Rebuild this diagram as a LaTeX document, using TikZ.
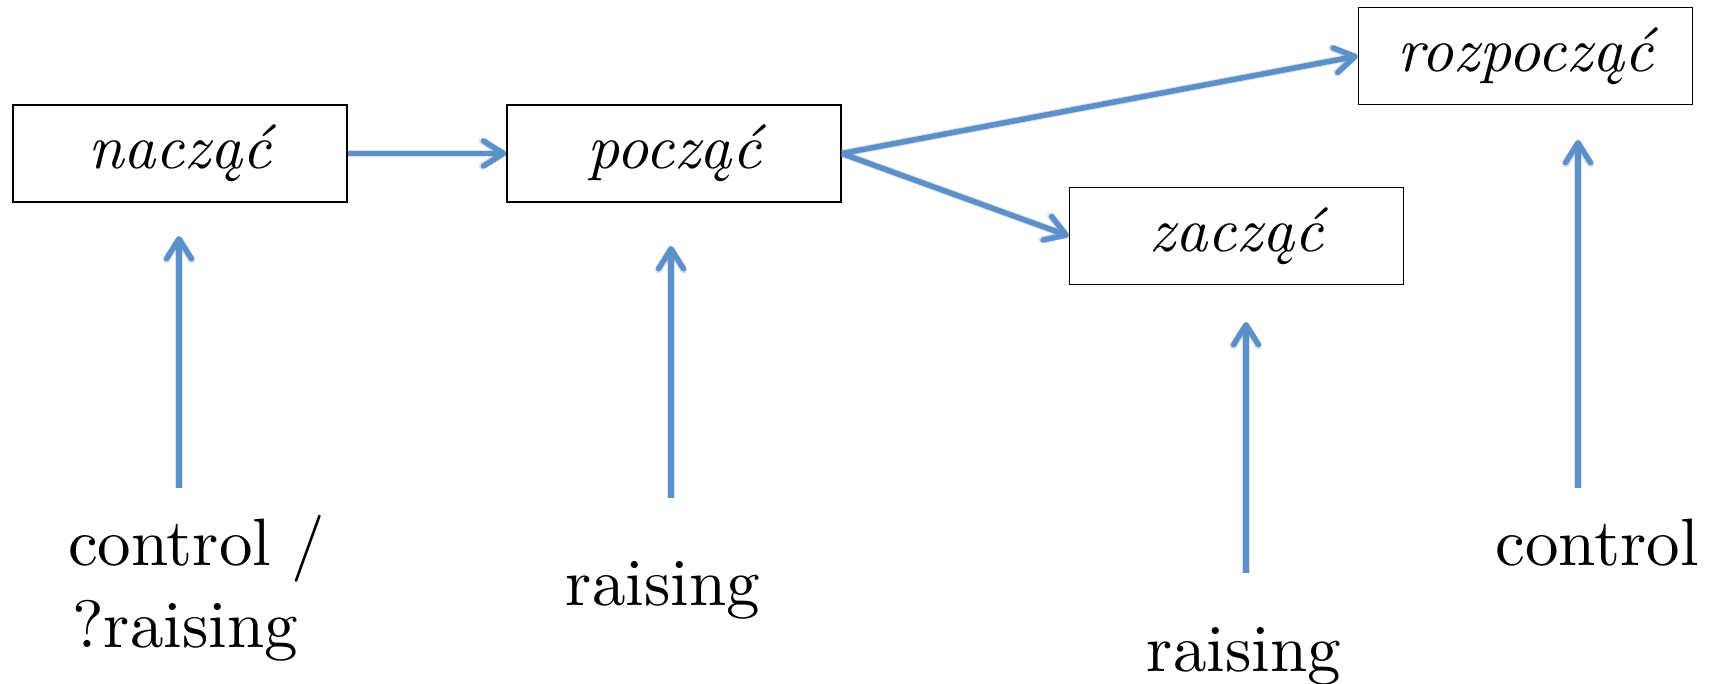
\documentclass[tikz,border=0pt]{standalone}
\usepackage{fontspec}
\setmainfont{lmroman10-regular.otf}[ItalicFont=lmroman10-italic.otf]
\usetikzlibrary{arrows.meta}
\definecolor{linkblue}{RGB}{90,145,202}
\tikzset{
  verb/.style={draw=black, line width=1.4pt, minimum width=334pt, minimum height=97pt,
    inner sep=0pt, font=\fontsize{63}{70}\selectfont\itshape},
  label/.style={anchor=base, inner sep=0pt, font=\fontsize{67}{80}\selectfont},
  link/.style={draw=linkblue, line width=5.5pt,
    -{Straight Barb[length=20pt, width=25pt, line width=5.5pt, round]}},
  linkshadow/.style={draw=black, opacity=0.12, line width=7.5pt,
    -{Straight Barb[length=20pt, width=25pt, line width=7.5pt, round]}}
}
\begin{document}
\begin{tikzpicture}[x=1pt, y=-1pt]
  \useasboundingbox (0,0) rectangle (1712,684);

  % verb boxes
  \node[verb] (nac) at (180,153.5) {naczą\'c};
  \node[verb] (poc) at (674,153.5) {począ\'c};
  \node[verb] (zac) at (1236.5,236) {zaczą\'c};
  \node[verb] (roz) at (1525.5,56) {rozpoczą\'c};

  % verb-class labels
  \node[label, anchor=base west] (l1a) at (68,565) {control\hspace{0.3em}/};
  \node[label, anchor=base west] (l1b) at (72,647) {?raising};
  \node[label] (l2) at (663,605) {raising};
  \node[label] (l3) at (1244,671) {raising};
  \node[label] (l4) at (1597,565) {control};

  % tails and heads of the vertical arrows
  \coordinate (a1s) at (179,488);  \coordinate (a1e) at (179,236);
  \coordinate (a2s) at (671,498);  \coordinate (a2e) at (671,246);
  \coordinate (a3s) at (1246,573); \coordinate (a3e) at (1246,322);
  \coordinate (a4s) at (1578,488); \coordinate (a4e) at (1578,140);

  % soft shadows under the arrows
  \begin{scope}[shift={(2,2.5)}]
    \path[linkshadow] (nac.east) -- (poc.west);
    \path[linkshadow] (poc.east) -- (roz.west);
    \path[linkshadow] (poc.east) -- (zac.west);
    \path[linkshadow] (a1s) -- (a1e);
    \path[linkshadow] (a2s) -- (a2e);
    \path[linkshadow] (a3s) -- (a3e);
    \path[linkshadow] (a4s) -- (a4e);
  \end{scope}

  % arrows
  \path[link] (nac.east) -- (poc.west);
  \path[link] (poc.east) -- (roz.west);
  \path[link] (poc.east) -- (zac.west);
  \path[link] (a1s) -- (a1e);
  \path[link] (a2s) -- (a2e);
  \path[link] (a3s) -- (a3e);
  \path[link] (a4s) -- (a4e);
\end{tikzpicture}
\end{document}
